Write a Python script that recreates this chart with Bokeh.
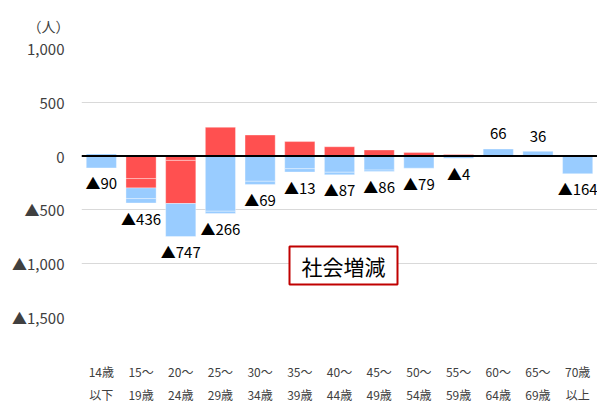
from bokeh.plotting import figure
from bokeh.models import (ColumnDataSource, FactorRange, FixedTicker, Span, Label,
                          CategoricalAxis, Title)
from bokeh.core.properties import value
from bokeh.embed import file_html
from bokeh.resources import INLINE

# age groups: first and second line of each category label
line1 = ["14歳", "15～", "20～", "25～", "30～", "35～", "40～", "45～", "50～", "55～", "60～", "65～", "70歳"]
line2 = ["以下", "19歳", "24歳", "29歳", "34歳", "39歳", "44歳", "49歳", "54歳", "59歳", "64歳", "69歳", "以上"]
categories = line1

red_a = [0, -209, -40, 268, 196, 135, 87, 57, 33, 16, 0, 0, 0]
red_b = [0, -87, -401, 0, 0, 0, 0, 0, 0, 0, 0, 0, 0]
blue_a = [20, -99, -306, -512, -234, -117, -150, -130, -112, -20, 66, 44, -164]
blue_b = [-110, -41, 0, -22, -31, -31, -24, -13, 0, 0, 0, -8, 0]

y_ticks = [-1500, -1000, -500, 0, 500, 1000]
y_tick_labels = ["▲1,500", "▲1,000", "▲500", "0", "500", "1,000"]

RED = "#FF5050"
BLUE = "#99CCFF"
FONT = "Noto Sans CJK JP"

p = figure(x_range=FactorRange(*categories), y_range=(-1500, 1000),
           width=597, height=405, output_backend="svg", toolbar_location=None,
           min_border_left=81, min_border_right=0, min_border_top=47, min_border_bottom=88)
p.outline_line_color = None
p.background_fill_color = "white"
p.extra_x_ranges = {"l2": FactorRange(*line2)}

# unit label as title
p.title = Title(text="（人）", align="left", offset=-54, standoff=26,
                text_font=FONT, text_font_size="14px", text_font_style="normal",
                text_color="#404040")

# manual stacking: positives up, negatives down
series = [(red_a, RED), (red_b, RED), (blue_a, BLUE), (blue_b, BLUE)]
pos = [0.0] * len(categories)
neg = [0.0] * len(categories)
for vals, col in series:
    bots, tops, xs = [], [], []
    for i, v in enumerate(vals):
        if v == 0:
            continue
        if v > 0:
            b, t = pos[i], pos[i] + v
            pos[i] = t
        else:
            b, t = neg[i] + v, neg[i]
            neg[i] = b
        xs.append(categories[i]); bots.append(b); tops.append(t)
    src = ColumnDataSource(dict(x=xs, bottom=bots, top=tops))
    p.vbar(x="x", bottom="bottom", top="top", width=0.76, source=src,
           fill_color=col, line_color="white", line_alpha=0.35, line_width=1)

# net labels
net = [red_a[i] + red_b[i] + blue_a[i] + blue_b[i] for i in range(len(categories))]
neg_x, neg_y, neg_t, pos_x, pos_y, pos_t = [], [], [], [], [], []
for i, n in enumerate(net):
    if n < 0:
        neg_x.append(categories[i]); neg_y.append(neg[i]); neg_t.append("▲" + format(-n, ","))
    else:
        pos_x.append(categories[i]); pos_y.append(pos[i]); pos_t.append(format(n, ","))
p.text(x=neg_x, y=neg_y, text=neg_t, text_align="center", text_baseline="middle",
       y_offset=15, text_font=value(FONT), text_font_size="15px", text_color="#000000")
p.text(x=pos_x, y=pos_y, text=pos_t, text_align="center", text_baseline="middle",
       y_offset=-15, text_font=value(FONT), text_font_size="15px", text_color="#000000")

p.add_layout(Span(location=0, dimension="width", line_color="black", line_width=2))

# y axis
p.yaxis.ticker = FixedTicker(ticks=y_ticks)
p.yaxis.major_label_overrides = {t: l for t, l in zip(y_ticks, y_tick_labels)}
p.yaxis.axis_line_color = None
p.yaxis.major_tick_line_color = None
p.yaxis.minor_tick_line_color = None
p.yaxis.major_label_standoff = 11
p.yaxis.major_label_text_font = FONT
p.yaxis.major_label_text_font_size = "15px"
p.yaxis.major_label_text_color = "#404040"

p.ygrid.ticker = FixedTicker(ticks=y_ticks)
p.ygrid.grid_line_color = "#D9D9D9"
p.xgrid.grid_line_color = None

# x axes (two lines)
ax2 = CategoricalAxis(x_range_name="l2")
p.add_layout(ax2, "below")
for ax in [p.xaxis[0], ax2]:
    ax.axis_line_color = None
    ax.major_tick_line_color = None
    ax.minor_tick_line_color = None
    ax.major_label_text_font = FONT
    ax.major_label_text_font_size = "12px"
    ax.major_label_text_color = "#404040"
p.xaxis[0].major_label_standoff = 39
ax2.major_label_standoff = -3

# title box
p.add_layout(Label(x=262, y=52, x_units="screen", y_units="screen", text="社会増減",
                   text_align="center", text_baseline="middle", text_font=FONT,
                   text_font_size="21px", text_color="#000000",
                   background_fill_color="white", border_line_color="#C00000",
                   border_line_width=2, padding=(12, 4)))

open("out.html", "w").write(file_html(p, INLINE))
